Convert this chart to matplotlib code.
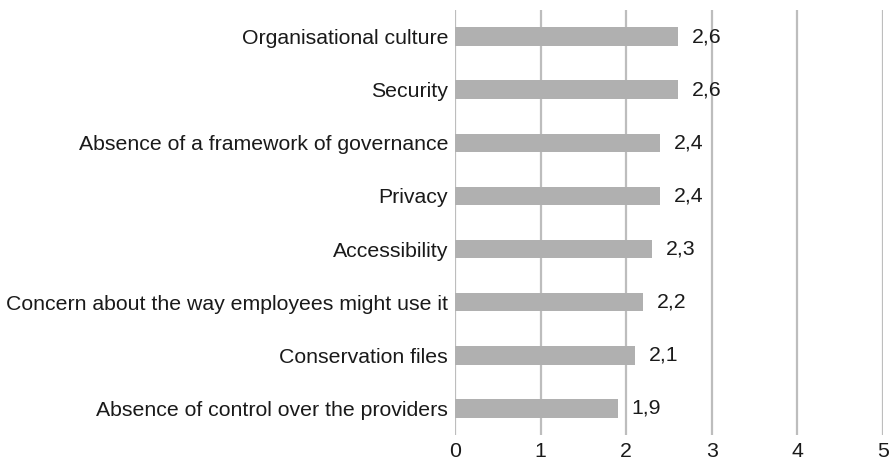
import matplotlib
matplotlib.use("Agg")
import matplotlib.pyplot as plt

plt.rcParams["font.family"] = ["Liberation Sans", "DejaVu Sans"]

# Barriers, listed bottom to top as drawn on the y axis
categories = [
    "Absence of control over the providers",
    "Conservation files",
    "Concern about the way employees might use it",
    "Accessibility",
    "Privacy",
    "Absence of a framework of governance",
    "Security",
    "Organisational culture",
]
values = [1.9, 2.1, 2.2, 2.3, 2.4, 2.4, 2.6, 2.6]
x_ticks = [0, 1, 2, 3, 4, 5]

fig = plt.figure(figsize=(8.89, 4.61), dpi=100)
ax = fig.add_axes([455 / 889, 1 - 435 / 461, (883 - 455) / 889, (435 - 10) / 461])

grid_color = "#bdbdbd"
bar_color = "#b0b0b0"
text_color = "#1a1a1a"
fs = 15.3

ypos = list(range(len(categories)))
ax.barh(ypos, values, height=0.35, color=bar_color, zorder=2)

for y, v in zip(ypos, values):
    label = f"{v:.1f}".replace(".", ",")
    ax.annotate(label, xy=(v, y), xytext=(10, 0), textcoords="offset points",
                ha="left", va="center", fontsize=fs, color=text_color, zorder=3)

ax.set_xlim(0, 5)
ax.set_ylim(-0.5, len(categories) - 0.5)
ax.set_xticks(x_ticks)
ax.set_xticklabels([str(t) for t in x_ticks], fontsize=fs, color=text_color)
ax.set_yticks(ypos)
ax.set_yticklabels(categories, fontsize=fs, color=text_color)
ax.tick_params(axis="both", length=0)
ax.tick_params(axis="y", pad=5)
ax.tick_params(axis="x", pad=5)

ax.xaxis.grid(True, color=grid_color, linewidth=1.6, zorder=0)
ax.set_axisbelow(True)
for side in ["top", "right", "bottom", "left"]:
    ax.spines[side].set_visible(False)

fig.savefig("out.png", dpi=100)
